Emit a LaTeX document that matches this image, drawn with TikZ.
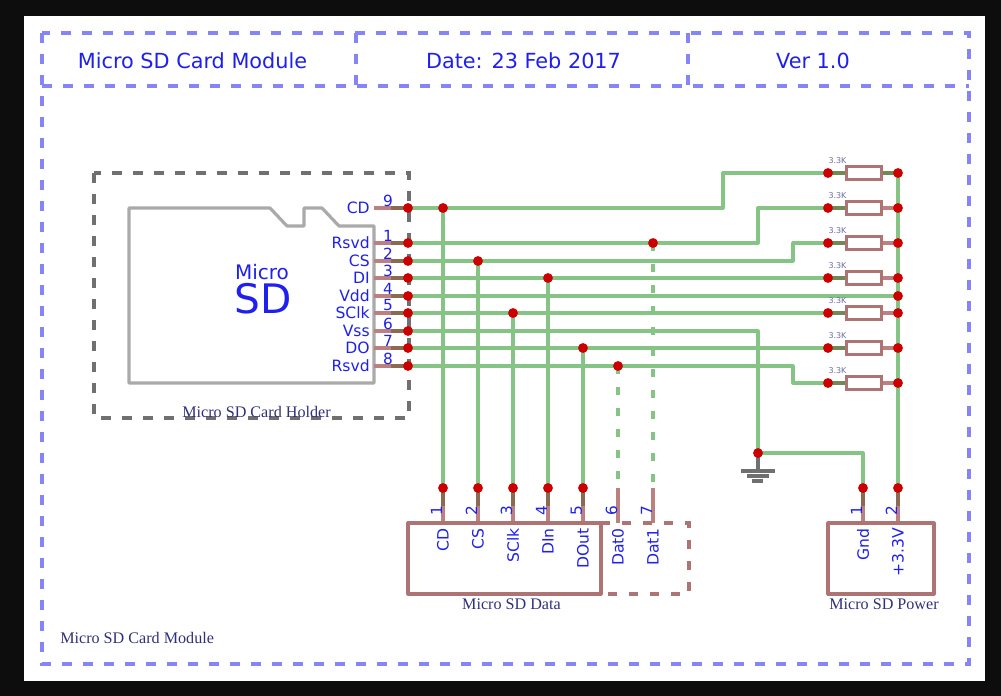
\documentclass[tikz,border=0pt]{standalone}
\usepackage{fontspec}
\setmainfont{DejaVu Sans}
\newfontfamily\capfont{Liberation Serif}
\usetikzlibrary{backgrounds}
\definecolor{frameblue}{HTML}{8585F5}
\definecolor{txtblue}{HTML}{2020EE}
\definecolor{capblue}{HTML}{30307A}
\definecolor{wiregreen}{HTML}{85C485}
\definecolor{pinred}{HTML}{BC8080}
\definecolor{boxred}{HTML}{AE7474}
\definecolor{brownov}{HTML}{8A6A50}
\definecolor{olive}{HTML}{6F8A55}
\definecolor{holdergray}{HTML}{707070}
\definecolor{cardgray}{HTML}{AAAAAA}
\definecolor{padred}{HTML}{CC0000}
\tikzset{
  x=0.75pt,y=-0.75pt,
  frameline/.style={draw=frameblue,line width=2.4pt,dash pattern=on 7.5pt off 8.25pt},
  holderline/.style={draw=holdergray,line width=2.4pt,dash pattern=on 7.5pt off 8.25pt},
  cardline/.style={draw=cardgray,line width=2.4pt,line join=round},
  wire/.style={draw=wiregreen,line width=2.4pt,line join=round},
  ghostwire/.style={draw=wiregreen,line width=2.4pt,dash pattern=on 6pt off 9.75pt},
  pinline/.style={draw=pinred,line width=2.4pt},
  overlap/.style={draw=brownov,line width=2.4pt},
  oliveline/.style={draw=olive,line width=2.4pt},
  boxline/.style={draw=boxred,line width=2.4pt,line join=round},
  boxdash/.style={draw=boxred,line width=2.4pt,dash pattern=on 7pt off 8.75pt},
  pad/.style={circle,fill=padred,inner sep=0pt,minimum size=7.4pt},
  title/.style={text=txtblue,font=\fontsize{15.6}{18}\selectfont,inner sep=0pt},
  pinname/.style={text=txtblue,font=\fontsize{11.7}{13}\selectfont,inner sep=0pt},
  pinnum/.style={text=txtblue,font=\fontsize{11.5}{13}\selectfont,inner sep=0pt},
  caption/.style={text=capblue,font=\capfont\fontsize{12.1}{14}\selectfont,inner sep=0pt},
  res/.style={draw=boxred,fill=white,line width=2.4pt,minimum width=26.5pt,minimum height=10pt,inner sep=0pt},
  reslabel/.style={text=capblue!70!white,font=\fontsize{6}{7}\selectfont,inner sep=0pt},
}
\begin{document}
\begin{tikzpicture}
\useasboundingbox (0,0) rectangle (1001,696);
% pads on the holder
\foreach \n/\y in {9/208,1/243,2/261,3/278,4/296,5/313,6/331,7/348,8/366}{
  \node[pad] (h\n) at (408,\y) {};
  \coordinate (ph\n) at (374,\y);
  \coordinate (mh\n) at (391,\y);
}
% resistors
\foreach \n/\y in {1/173,2/208,3/243,4/278,5/313,6/348,7/383}{
  \node[pad] (ra\n) at (828,\y) {};
  \node[pad] (rb\n) at (898,\y) {};
  \node[res] (r\n) at (864,\y) {};
  \node[reslabel] (rl\n) at (837.5,{\y-12}) {3.3K};
}
\node[pad] (vdd) at (898,296) {};
% junctions
\node[pad] (jcd) at (443,208) {};
\node[pad] (jcs) at (478,261) {};
\node[pad] (jdi) at (548,278) {};
\node[pad] (jsc) at (513,313) {};
\node[pad] (jdo) at (583,348) {};
\node[pad] (jr8) at (618,366) {};
\node[pad] (jr1) at (653,243) {};
\node[pad] (jgnd) at (758,453) {};
% connector pads
\foreach \n/\x in {1/443,2/478,3/513,4/548,5/583}{
  \node[pad] (d\n) at (\x,488) {};
  \coordinate (dm\n) at (\x,506);
  \coordinate (de\n) at (\x,523);
}
\coordinate (d6) at (618,488); \coordinate (de6) at (618,523);
\coordinate (d7) at (653,488); \coordinate (de7) at (653,523);
\node[pad] (s1) at (863,488) {};
\node[pad] (s2) at (898,488) {};
\coordinate (sm1) at (863,506); \coordinate (se1) at (863,523);
\coordinate (sm2) at (898,506); \coordinate (se2) at (898,523);
% bends
\coordinate (b1) at (723,173);
\coordinate (b2) at (758,208);
\coordinate (b3) at (793,243);
\coordinate (b8) at (793,383);
\coordinate (g0) at (758,470);
\begin{scope}[on background layer]
  \fill[fill=black!95] (0,0) rectangle (1001,696);
  \fill[white] (24,16) rectangle (985,681);
  % frame
  \draw[frameline] (42,33) rectangle (969,664);
  \draw[frameline] (42,86) -- (969,86);
  \draw[frameline] (356,33) -- (356,86);
  \draw[frameline] (688,33) -- (688,86);
  % holder
  \draw[holderline] (94,173) rectangle (409,418);
  \draw[cardline] (129,208) -- (270,208) -- (287,226) -- (304,226) -- (304,208) -- (322,208) -- (339,226) -- (374,226) -- (374,383) -- (129,383) -- cycle;
  % pins
  \foreach \n in {9,1,2,3,4,5,6,7,8}{
    \draw[pinline] (ph\n) -- (h\n.center);
    \draw[overlap] (mh\n) -- (h\n.center);
  }
  % wires
  \draw[wire] (h9.center) -| (b1) -- (ra1.center);
  \draw[wire] (h1.center) -| (b2) -- (ra2.center);
  \draw[wire] (h2.center) -| (b3) -- (ra3.center);
  \draw[wire] (h3.center) -- (ra4.center);
  \draw[wire] (h4.center) -- (vdd.center);
  \draw[wire] (h5.center) -- (ra5.center);
  \draw[wire] (h6.center) -| (jgnd.center);
  \draw[wire] (h7.center) -- (ra6.center);
  \draw[wire] (h8.center) -| (b8) -- (ra7.center);
  \draw[wire] (jgnd.center) -| (s1.center);
  \draw[wire] (rb1.center) -- (s2.center);
  \draw[wire] (jcd.center) -- (d1.center);
  \draw[wire] (jcs.center) -- (d2.center);
  \draw[wire] (jsc.center) -- (d3.center);
  \draw[wire] (jdi.center) -- (d4.center);
  \draw[wire] (jdo.center) -- (d5.center);
  \draw[ghostwire] (jr8.center) -- (d6);
  \draw[ghostwire] (jr1.center) -- (d7);
  % resistor stubs
  \foreach \n in {1,...,7}{
    \draw[oliveline] (ra\n.center) -- (r\n.west);
    \draw[pinline] (rb\n.center) -- (r\n.east);
  }
  \draw[oliveline] (rb1.center) -- (r1.east);
  % connector pins
  \foreach \n in {1,...,5}{
    \draw[pinline] (d\n.center) -- (de\n);
    \draw[overlap] (d\n.center) -- (dm\n);
  }
  \draw[pinline] (d6) -- (de6);
  \draw[pinline] (d7) -- (de7);
  \draw[pinline] (s1.center) -- (se1);
  \draw[overlap] (s1.center) -- (sm1);
  \draw[pinline] (s2.center) -- (se2);
  \draw[overlap] (s2.center) -- (sm2);
  % ground
  \draw[draw=holdergray,line width=2.4pt] (jgnd.center) -- (g0);
  \draw[draw=holdergray,line width=2.4pt] (741,471) -- (775,471);
  \draw[draw=holdergray,line width=2.4pt] (747,476) -- (769,476);
  \draw[draw=holdergray,line width=2.4pt] (752,481) -- (763,481);
  % connector boxes
  \draw[boxline] (408,523) rectangle (601,594);
  \draw[boxdash] (601,523) -- (689,523) -- (689,594) -- (601,594);
  \draw[boxline] (828,523) rectangle (934,594);
\end{scope}
% titles
\node[title] (t1) at (192.5,61) {Micro SD Card Module};
\node[title] (t2) at (523.5,61) {Date: 23 Feb 2017};
\node[title] (t3) at (813,61) {Ver 1.0};
% card text
\node[text=txtblue,font=\fontsize{15}{17}\selectfont,inner sep=0pt] (cm) at (262,272) {Micro};
\node[text=txtblue,font=\fontsize{30.5}{32}\selectfont,inner sep=0pt] (cs) at (263.5,299) {SD};
% holder pin labels
\foreach \n/\y/\t in {9/208/CD,1/243/Rsvd,2/261/CS,3/278/DI,4/296/Vdd,5/313/SClk,6/331/Vss,7/348/DO,8/366/Rsvd}{
  \node[pinname,anchor=east] (ln\n) at (370,\y) {\t};
  \node[pinnum] (lp\n) at (388,{\y-7.5}) {\n};
}
% connector labels
\foreach \n/\x/\t in {1/443/CD,2/478/CS,3/513/SClk,4/548/DIn,5/583/DOut,6/618/Dat0,7/653/Dat1}{
  \node[pinname,rotate=90,anchor=east] (dl\n) at (\x,528) {\t};
  \node[pinnum,rotate=90] (dn\n) at ({\x-6.5},510.5) {\n};
}
\node[pinname,rotate=90,anchor=east] (sl1) at (863,528) {Gnd};
\node[pinname,rotate=90,anchor=east] (sl2) at (898,528) {+3.3V};
\node[pinnum,rotate=90] (sn1) at (856.5,510.5) {1};
\node[pinnum,rotate=90] (sn2) at (891.5,510.5) {2};
% captions
\node[caption] (c1) at (256.5,412) {Micro SD Card Holder};
\node[caption] (c2) at (511.5,604) {Micro SD Data};
\node[caption] (c3) at (884,604) {Micro SD Power};
\node[caption,anchor=west] (c4) at (60,638) {Micro SD Card Module};
\end{tikzpicture}
\end{document}
